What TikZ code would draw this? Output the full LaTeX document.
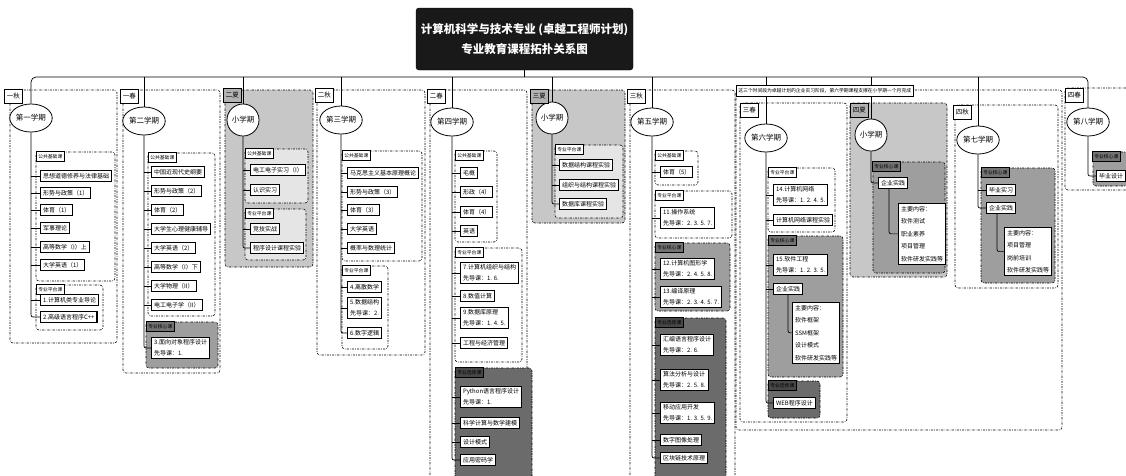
\documentclass[tikz,border=0pt]{standalone}
\usepackage{fontspec}
\setmainfont{Noto Sans CJK SC}
\usetikzlibrary{shapes.geometric}
\definecolor{sumfill}{gray}{0.78}
\definecolor{sumin}{gray}{0.90}
\definecolor{corefill}{gray}{0.62}
\definecolor{corelab}{gray}{0.45}
\definecolor{elefill}{gray}{0.42}
\definecolor{elelab}{gray}{0.28}
\tikzset{
 grp/.style={draw=black, line width=0.6pt, dash pattern=on 2.2pt off 1.2pt on 0.6pt off 1.2pt, rounded corners=3pt},
 sem/.style={ellipse, draw, fill=white, line width=0.8pt, inner sep=0pt, minimum width=41pt, minimum height=28pt, font=\fontsize{7.5}{8}\selectfont},
 smallsem/.style={sem, minimum width=32pt, minimum height=32pt},
 seasonbox/.style={draw, fill=white, line width=0.8pt, anchor=north west, inner xsep=2.5pt, inner ysep=0pt, minimum height=14pt, font=\fontsize{6.5}{7}\selectfont},
 seasondark/.style={seasonbox, fill=gray!60},
 cat/.style={draw, fill=white, line width=0.6pt, anchor=north west, inner xsep=2pt, inner ysep=0pt, minimum height=10pt, font=\fontsize{4.8}{5}\selectfont},
 catcore/.style={cat, fill=corelab},
 catele/.style={cat, fill=elelab},
 crs/.style={draw, fill=white, line width=1.1pt, anchor=west, align=left, inner xsep=2.5pt, inner ysep=2.5pt, font=\fontsize{6}{11}\selectfont},
 detail/.style={crs, anchor=north west, font=\fontsize{6}{12.5}\selectfont},
 link/.style={line width=0.7pt},
}
\begin{document}
\begin{tikzpicture}[x=1pt,y=-1pt]
\useasboundingbox (0,0) rectangle (1126,475);
\fill[white] (0,0) rectangle (1126,475);
\coordinate (bus) at (0,77);

% ---------- outer semester boxes ----------
\draw[grp] (10,90) rectangle (117,343);
\draw[grp] (123,90) rectangle (220,373);
\draw[grp, fill=sumfill] (225,90) rectangle (313,267);
\draw[grp] (317,90) rectangle (425,355);
\draw[grp] (430,90) rectangle (527,480);
\draw[grp, fill=sumfill] (532,90) rectangle (625,223);
\draw[grp] (630,90) rectangle (735,480);
\draw[grp] (736,90) rectangle (1062,430);
\draw[grp] (740,103) rectangle (847,422);
\draw[grp, fill=sumfill] (850,103) rectangle (947,277);
\draw[grp] (955,105) rectangle (1058,288);
\draw[grp] (1065,88) rectangle (1140,190);

% ---------- group boxes ----------
% col1
\draw[grp] (36,152) rectangle (115,281);
\draw[grp] (36,285) rectangle (103,330);
% col2
\draw[grp] (148,153) rectangle (215,316);
\draw[grp, fill=corefill] (146,322) rectangle (218,368);
% col3
\draw[grp, fill=sumin] (245,149) rectangle (308,203);
\draw[grp, fill=sumin] (245,209) rectangle (306,260);
% col4
\draw[grp] (342,151) rectangle (422,261);
\draw[grp] (342,266) rectangle (388,349);
% col5
\draw[grp] (455,151) rectangle (497,242);
\draw[grp] (455,248) rectangle (522,362);
\draw[grp, fill=elefill] (455,368) rectangle (532,480);
% col6
\draw[grp, fill=sumin] (555,145) rectangle (623,218);
% col7
\draw[grp] (655,151) rectangle (698,185);
\draw[grp] (655,191) rectangle (732,238);
\draw[grp, fill=corefill] (655,243) rectangle (730,311);
\draw[grp, fill=elefill] (655,318) rectangle (726,480);
% col8
\draw[grp] (768,168) rectangle (835,232);
\draw[grp, fill=corefill] (768,236) rectangle (843,377);
\draw[grp, fill=elefill] (768,381) rectangle (820,418);
% col9
\draw[grp, fill=corefill] (873,162) rectangle (945,273);
% col10
\draw[grp, fill=corefill] (981,168) rectangle (1055,283);
% col11
\draw[grp, fill=corefill] (1093,152) rectangle (1140,186);

% ---------- title ----------
\node[fill=black!90, draw=black, rounded corners=3pt, text=white, minimum width=217pt, minimum height=62pt, align=center, font=\bfseries\fontsize{11.5}{20}\selectfont] (title) at (524.5,39) {计算机科学与技术专业 (卓越工程师计划)\\专业教育课程拓扑关系图};

% ---------- semesters ----------
\node[sem] (e1) at (31,118) {第一学期};
\node[sem] (e2) at (144,121) {第二学期};
\node[smallsem] (e3) at (243,120) {小学期};
\node[sem] (e4) at (341,120) {第三学期};
\node[sem] (e5) at (452,122) {第四学期};
\node[smallsem] (e6) at (552,118) {小学期};
\node[sem] (e7) at (652,122) {第五学期};
\node[sem] (e8) at (766,138) {第六学期};
\node[smallsem] (e9) at (871,135) {小学期};
\node[sem] (e10) at (978,140) {第七学期};
\node[sem] (e11) at (1088,122) {第八学期};

% ---------- season labels ----------
\node[seasonbox] (s1) at (4,89) {一秋};
\node[seasonbox] (s2) at (120,89) {一春};
\node[seasondark] (s3) at (223,88) {二夏};
\node[seasonbox] (s4) at (315,88) {二秋};
\node[seasonbox] (s5) at (427,89) {二春};
\node[seasondark] (s6) at (530,89) {三夏};
\node[seasonbox] (s7) at (627,89) {三秋};
\node[seasonbox] (s8) at (740,103) {三春};
\node[seasondark] (s9) at (850,103) {四夏};
\node[seasonbox] (s10) at (953,105) {四秋};
\node[seasonbox] (s11) at (1065,88) {四春};

% ---------- category labels ----------
\node[cat] (k1a) at (36,151) {公共基础课};
\node[cat] (k1b) at (36,284) {专业平台课};
\node[cat] (k2a) at (148,152) {公共基础课};
\node[catcore] (k2b) at (146,321) {专业核心课};
\node[cat] (k3a) at (245,148) {公共基础课};
\node[cat] (k3b) at (245,208) {专业平台课};
\node[cat] (k4a) at (342,150) {公共基础课};
\node[cat] (k4b) at (342,265) {专业平台课};
\node[cat] (k5a) at (455,150) {公共基础课};
\node[cat] (k5b) at (455,247) {专业平台课};
\node[catele] (k5c) at (455,367) {专业选修课};
\node[cat] (k6a) at (555,144) {专业平台课};
\node[cat] (k7a) at (655,150) {公共基础课};
\node[cat] (k7b) at (655,190) {专业平台课};
\node[catcore] (k7c) at (655,242) {专业核心课};
\node[catele] (k7d) at (655,317) {专业选修课};
\node[cat] (k8a) at (768,167) {专业平台课};
\node[catcore] (k8b) at (768,235) {专业核心课};
\node[catele] (k8c) at (768,380) {专业选修课};
\node[catcore] (k9a) at (872,161) {专业核心课};
\node[catcore] (k10a) at (981,167) {专业核心课};
\node[catcore] (k11a) at (1092,151) {专业核心课};

% ---------- courses ----------
% col1
\node[crs] (c1a) at (40,176) {思想道德修养与法律基础};
\node[crs] (c1b) at (40,193) {形势与政策（1）};
\node[crs] (c1c) at (40,210) {体育（1）};
\node[crs] (c1d) at (40,228) {军事理论};
\node[crs] (c1e) at (40,247) {高等数学（I）上};
\node[crs] (c1f) at (40,265) {大学英语（1）};
\node[crs] (c1g) at (40,300) {1.计算机类专业导论};
\node[crs] (c1h) at (40,317) {2.高级语言程序C++};
% col2
\node[crs] (c2a) at (151,172) {中国近现代史纲要};
\node[crs] (c2b) at (151,191) {形势与政策（2）};
\node[crs] (c2c) at (151,210) {体育（2）};
\node[crs] (c2d) at (151,229) {大学生心理健康辅导};
\node[crs] (c2e) at (151,248) {大学英语（2）};
\node[crs] (c2f) at (151,267) {高等数学（I）下};
\node[crs] (c2g) at (151,286) {大学物理（II）};
\node[crs] (c2h) at (151,305) {电工电子学（II）};
\node[crs] (c2i) at (151,348) {3.面向对象程序设计\\先导课：1.};
% col3
\node[crs] (c3a) at (250,170) {电工电子实习（I）};
\node[crs] (c3b) at (250,190) {认识实习};
\node[crs] (c3c) at (250,229) {竞技实战};
\node[crs] (c3d) at (250,248) {程序设计课程实验};
% col4
\node[crs] (c4a) at (347,173) {马克思主义基本原理概论};
\node[crs] (c4b) at (347,192) {形势与政策（3）};
\node[crs] (c4c) at (347,210) {体育（3）};
\node[crs] (c4d) at (347,229) {大学英语};
\node[crs] (c4e) at (347,248) {概率与数理统计};
\node[crs] (c4f) at (347,287) {4.离散数学};
\node[crs] (c4g) at (347,308) {5.数据结构\\先导课：2.};
\node[crs] (c4h) at (347,333) {6.数字逻辑};
% col5
\node[crs] (c5a) at (460,173) {毛概};
\node[crs] (c5b) at (460,192) {形政（4）};
\node[crs] (c5c) at (460,212) {体育（4）};
\node[crs] (c5d) at (460,231) {英语};
\node[crs] (c5e) at (460,273) {7.计算机组织与结构\\先导课：1. 6.};
\node[crs] (c5f) at (460,296) {8.数值计算};
\node[crs] (c5g) at (460,318) {9.数据库原理\\先导课：1. 4. 5.};
\node[crs] (c5h) at (460,343) {工程与经济管理};
\node[crs] (c5i) at (460,397) {Python语言程序设计\\先导课：1.};
\node[crs] (c5j) at (460,423) {科学计算与数学建模};
\node[crs] (c5k) at (460,442) {设计模式};
\node[crs] (c5l) at (460,460) {应用密码学};
% col6
\node[crs] (c6a) at (559,165) {数据结构课程实验};
\node[crs] (c6b) at (559,185) {组织与结构课程实验};
\node[crs] (c6c) at (559,204) {数据库课程实验};
% col7
\node[crs] (c7a) at (660,172) {体育（5）};
\node[crs] (c7b) at (660,218) {11.操作系统\\先导课：2. 3. 5. 7.};
\node[crs] (c7c) at (660,269) {12.计算机图形学\\先导课：2. 4. 5. 8.};
\node[crs] (c7d) at (660,297) {13.编译原理\\先导课：2. 3. 4. 5. 7.};
\node[crs] (c7e) at (660,345) {汇编语言程序设计\\先导课：2. 6.};
\node[crs] (c7f) at (660,380) {算法分析与设计\\先导课：2. 5. 8.};
\node[crs] (c7g) at (660,413) {移动应用开发\\先导课：1. 3. 5. 9.};
\node[crs] (c7h) at (660,440) {数字图像处理};
\node[crs] (c7i) at (660,458) {区块链技术原理};
% col8
\node[crs] (c8a) at (773,195) {14.计算机网络\\先导课：1. 2. 4. 5.};
\node[crs] (c8b) at (773,220) {计算机网络课程实验};
\node[crs] (c8c) at (773,265) {15.软件工程\\先导课：1. 2. 3. 5.};
\node[crs] (q8) at (773,289) {企业实践};
\node[detail] (d8) at (792,302) {主要内容：\\软件框架\\SSM框架\\设计模式\\软件研发实践等};
\node[crs] (c8d) at (773,403) {WEB程序设计};
% col9
\node[crs] (q9) at (878,183) {企业实践};
\node[detail] (d9) at (898,203) {主要内容：\\软件测试\\职业素养\\项目管理\\软件研发实践等};
% col10
\node[crs] (c10a) at (986,190) {毕业实习};
\node[crs] (q10) at (986,208) {企业实践};
\node[detail] (d10) at (1004,227) {主要内容：\\项目管理\\岗前培训\\软件研发实践等};
% col11
\node[crs] (c11a) at (1096,176) {毕业设计};

% ---------- connectors ----------
\draw[link, rounded corners=5pt] (e1.north) |- (e11.north |- bus) -- (e11.north);
\draw[link] (title.south) -- (title.south |- bus);
\foreach \e in {e2,e3,e4,e5,e6,e7,e8,e9,e10}
  \draw[link] (\e.north) -- (\e.north |- bus);

% trunks
\draw[link, rounded corners=2pt] (e1.south) |- (c1h.west);
\foreach \n in {c1a,c1b,c1c,c1d,c1e,c1f,c1g} \draw[link] (e1.south |- \n.west) -- (\n.west);
\draw[link, rounded corners=2pt] (e2.south) |- (c2i.west);
\foreach \n in {c2a,c2b,c2c,c2d,c2e,c2f,c2g,c2h} \draw[link] (e2.south |- \n.west) -- (\n.west);
\draw[link, rounded corners=2pt] (e3.south) |- (c3d.west);
\foreach \n in {c3a,c3b,c3c} \draw[link] (e3.south |- \n.west) -- (\n.west);
\draw[link, rounded corners=2pt] (e4.south) |- (c4h.west);
\foreach \n in {c4a,c4b,c4c,c4d,c4e,c4f,c4g} \draw[link] (e4.south |- \n.west) -- (\n.west);
\draw[link, rounded corners=2pt] (e5.south) |- (c5l.west);
\foreach \n in {c5a,c5b,c5c,c5d,c5e,c5f,c5g,c5h,c5i,c5j,c5k} \draw[link] (e5.south |- \n.west) -- (\n.west);
\draw[link, rounded corners=2pt] (e6.south) |- (c6c.west);
\foreach \n in {c6a,c6b} \draw[link] (e6.south |- \n.west) -- (\n.west);
\draw[link, rounded corners=2pt] (e7.south) |- (c7i.west);
\foreach \n in {c7a,c7b,c7c,c7d,c7e,c7f,c7g,c7h} \draw[link] (e7.south |- \n.west) -- (\n.west);
\draw[link, rounded corners=2pt] (e8.south) |- (c8d.west);
\foreach \n in {c8a,c8b,c8c,q8} \draw[link] (e8.south |- \n.west) -- (\n.west);
\draw[link, rounded corners=2pt] (q8.south) |- (d8.west);
\draw[link, rounded corners=2pt] (e9.south) |- (q9.west);
\draw[link, rounded corners=2pt] ([xshift=-4pt]q9.south) |- (d9.west);
\draw[link, rounded corners=2pt] (e10.south) |- (q10.west);
\draw[link] (e10.south |- c10a.west) -- (c10a.west);
\draw[link, rounded corners=2pt] ([xshift=-4pt]q10.south) |- (d10.west);
\draw[link, rounded corners=2pt] (e11.south) |- (c11a.west);

% banner (drawn over the drop lines)
\node[draw, fill=white, line width=0.6pt, anchor=north west, inner xsep=2pt, inner ysep=0pt, minimum height=11pt, font=\fontsize{4.8}{5}\selectfont] (banner) at (736,85) {这三个时间段为卓越计划的企业实习阶段，第六学期课程支撑在小学期一个月完成};
\end{tikzpicture}
\end{document}
